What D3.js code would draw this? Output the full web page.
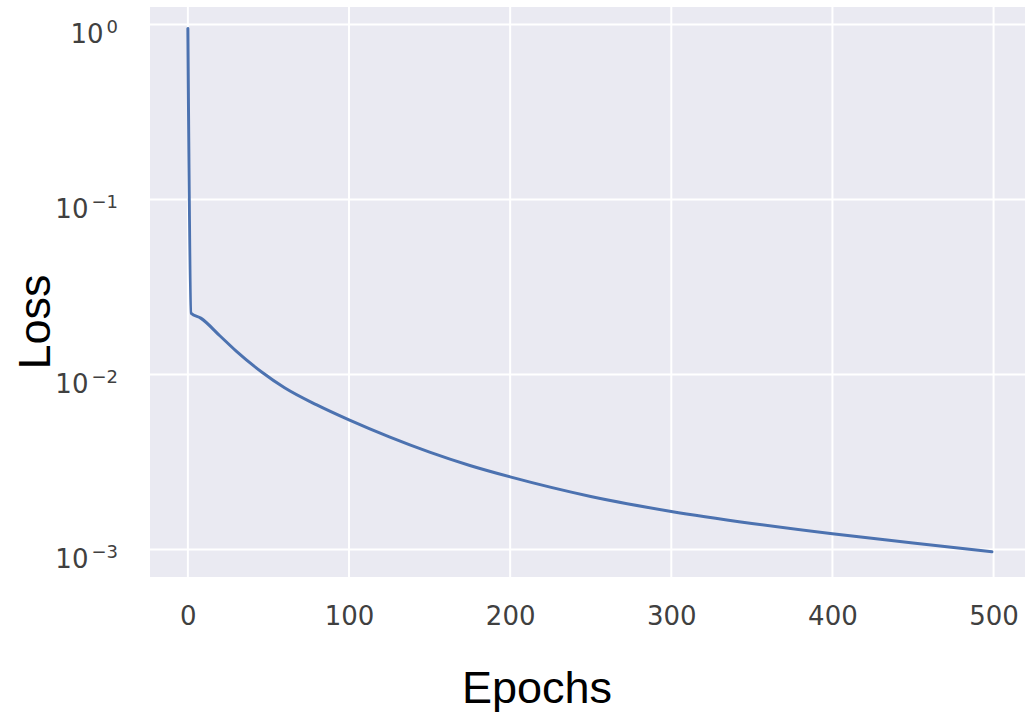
<!DOCTYPE html>
<html>
<head>
<meta charset="utf-8">
<script src="https://cdn.jsdelivr.net/npm/d3@7"></script>
<style>
  html, body { margin: 0; padding: 0; background: #fff; }
  svg { display: block; }
</style>
</head>
<body>
<svg id="chart" width="1025" height="715"></svg>
<script>
// data
const epochs = [0, 2, 8, 20, 30, 46, 60, 80, 100, 125, 150, 175, 200, 250, 300, 350, 400, 450, 499];
const loss = [0.95, 0.0224, 0.0210, 0.0166, 0.0136, 0.0103, 0.0084, 0.0067, 0.0055, 0.0044, 0.0036, 0.00302, 0.0026, 0.00201, 0.00165, 0.00141, 0.00123, 0.00109, 0.00097];
const xTicks = [0, 100, 200, 300, 400, 500];
const yTickExps = [0, -1, -2, -3];
const xLabel = "Epochs";
const yLabel = "Loss";

const plot = { left: 150, right: 1025, top: 7, bottom: 577 };

const svg = d3.select("#chart");

const x = d3.scaleLinear()
  .domain([-23.5, 519.5])
  .range([plot.left, plot.right]);

const y = d3.scaleLog()
  .domain([Math.pow(10, -3.157), Math.pow(10, 0.1)])
  .range([plot.bottom, plot.top]);

// background
svg.append("rect")
  .attr("x", plot.left)
  .attr("y", plot.top)
  .attr("width", plot.right - plot.left)
  .attr("height", plot.bottom - plot.top)
  .attr("fill", "#eaeaf2");

// grid
const grid = svg.append("g").attr("class", "grid");
grid.selectAll("line.vx")
  .data(xTicks)
  .join("line")
  .attr("class", "vx")
  .attr("x1", d => x(d)).attr("x2", d => x(d))
  .attr("y1", plot.top).attr("y2", plot.bottom)
  .attr("stroke", "#fff")
  .attr("stroke-width", 2);
grid.selectAll("line.hy")
  .data(yTickExps)
  .join("line")
  .attr("class", "hy")
  .attr("x1", plot.left).attr("x2", plot.right)
  .attr("y1", d => y(Math.pow(10, d))).attr("y2", d => y(Math.pow(10, d)))
  .attr("stroke", "#fff")
  .attr("stroke-width", 2);

// x axis (no tick marks, just labels)
const xAxis = svg.append("g")
  .attr("transform", `translate(0,${plot.bottom})`)
  .call(d3.axisBottom(x).tickValues(xTicks).tickSize(0).tickPadding(0).tickFormat(d3.format("d")));
xAxis.select(".domain").remove();
xAxis.selectAll("text")
  .attr("dy", null)
  .attr("y", 48)
  .style("font-family", "DejaVu Sans")
  .style("font-size", "26px")
  .attr("fill", "#404040");

// y axis, labels as 10^n
const yAxis = svg.append("g")
  .attr("transform", `translate(118,0)`)
  .call(d3.axisLeft(y).tickValues(yTickExps.map(e => Math.pow(10, e))).tickSize(0).tickPadding(0).tickFormat(() => ""));
yAxis.select(".domain").remove();
yAxis.selectAll(".tick text")
  .attr("dy", null)
  .attr("x", 0)
  .attr("y", 17.5)
  .attr("text-anchor", "end")
  .style("font-family", "DejaVu Sans")
  .attr("fill", "#404040")
  .each(function(d, i) {
    const t = d3.select(this);
    const e = yTickExps[i];
    t.append("tspan").text("10").style("font-size", "26px");
    t.append("tspan")
      .text(e < 0 ? "\u2212" + Math.abs(e) : String(e))
      .attr("dx", 3)
      .attr("dy", -10)
      .style("font-size", "18px");
  });

// loss curve
const line = d3.line()
  .x((d, i) => x(epochs[i]))
  .y(d => y(d))
  .curve(d3.curveMonotoneX);

svg.append("path")
  .datum(loss)
  .attr("d", line)
  .attr("fill", "none")
  .attr("stroke", "#4c72b0")
  .attr("stroke-width", 3)
  .attr("stroke-linejoin", "round")
  .attr("stroke-linecap", "round");

// axis titles
svg.append("text")
  .text(xLabel)
  .attr("x", 537)
  .attr("y", 703)
  .attr("text-anchor", "middle")
  .style("font-family", "Liberation Sans, Arial, sans-serif")
  .style("font-size", "45px")
  .attr("fill", "#000");

svg.append("text")
  .text(yLabel)
  .attr("transform", "translate(50,322) rotate(-90)")
  .attr("text-anchor", "middle")
  .style("font-family", "Liberation Sans, Arial, sans-serif")
  .style("font-size", "45px")
  .attr("fill", "#000");
</script>
</body>
</html>
